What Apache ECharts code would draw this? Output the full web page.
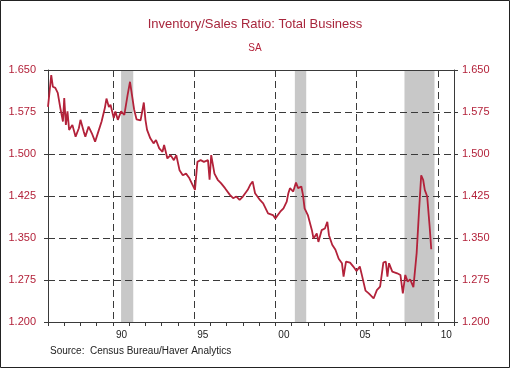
<!DOCTYPE html>
<html><head><meta charset="utf-8">
<script src="https://cdn.jsdelivr.net/npm/echarts@6/dist/echarts.min.js"></script>
<style>html,body{margin:0;padding:0;background:#fff}#c{width:510px;height:368px}</style>
</head><body><div id="c"></div>
<script>
const titleText = 'Inventory/Sales Ratio: Total Business';
const subtitleText = 'SA';
const sourceText = 'Source:  Census Bureau/Haver Analytics';
const xLabels = {1990: '90', 1995: '95', 2000: '00', 2005: '05', 2010: '10'};
const recessions = [[1990.5, 1991.25], [2001.2, 2001.9], [2007.95, 2009.8]];
const dates = [
  1986.0, 1986.2, 1986.3, 1986.45, 1986.6, 1986.76, 1986.92, 1987.0, 1987.1, 1987.2,
  1987.3, 1987.5, 1987.7, 1987.9, 1988.0, 1988.2, 1988.3, 1988.5, 1988.7, 1988.9,
  1989.1, 1989.3, 1989.5, 1989.6, 1989.75, 1989.85, 1990.05, 1990.15, 1990.3, 1990.5,
  1990.7, 1990.9, 1991.05, 1991.15, 1991.3, 1991.45, 1991.7, 1991.9, 1992.0, 1992.1,
  1992.3, 1992.5, 1992.65, 1992.85, 1993.05, 1993.15, 1993.35, 1993.55, 1993.75, 1993.9,
  1994.1, 1994.3, 1994.5, 1994.7, 1994.9, 1995.05, 1995.2, 1995.4, 1995.6, 1995.85,
  1995.95, 1996.05, 1996.25, 1996.45, 1996.65, 1996.9, 1997.2, 1997.4, 1997.6, 1997.8,
  1998.0, 1998.3, 1998.45, 1998.6, 1998.75, 1999.05, 1999.25, 1999.55, 1999.85, 2000.0,
  2000.3, 2000.5, 2000.7, 2000.8, 2000.9, 2001.1, 2001.27, 2001.4, 2001.6, 2001.7,
  2001.8, 2002.0, 2002.25, 2002.35, 2002.55, 2002.65, 2002.85, 2003.05, 2003.2, 2003.3,
  2003.5, 2003.7, 2003.9, 2004.1, 2004.2, 2004.35, 2004.6, 2004.8, 2005.0, 2005.2,
  2005.35, 2005.55, 2005.75, 2006.05, 2006.25, 2006.45, 2006.65, 2006.8, 2006.9, 2007.0,
  2007.2, 2007.5, 2007.7, 2007.85, 2008.0, 2008.15, 2008.3, 2008.5, 2008.7, 2008.85,
  2008.98, 2009.1, 2009.2, 2009.35, 2009.5, 2009.6
];
const ratio = [
  1.584, 1.641, 1.620, 1.618, 1.609, 1.582, 1.558, 1.600, 1.552, 1.576,
  1.543, 1.552, 1.531, 1.546, 1.561, 1.540, 1.531, 1.549, 1.537, 1.522,
  1.540, 1.558, 1.582, 1.599, 1.584, 1.588, 1.564, 1.576, 1.561, 1.576,
  1.570, 1.605, 1.629, 1.626, 1.580, 1.562, 1.560, 1.592, 1.561, 1.543,
  1.528, 1.519, 1.525, 1.510, 1.504, 1.516, 1.492, 1.498, 1.489, 1.498,
  1.471, 1.462, 1.465, 1.457, 1.445, 1.436, 1.486, 1.489, 1.486, 1.489,
  1.454, 1.498, 1.465, 1.454, 1.448, 1.439, 1.427, 1.421, 1.424, 1.418,
  1.424, 1.436, 1.445, 1.451, 1.430, 1.418, 1.412, 1.394, 1.391, 1.385,
  1.397, 1.403, 1.415, 1.430, 1.439, 1.433, 1.449, 1.439, 1.442, 1.427,
  1.403, 1.391, 1.364, 1.349, 1.358, 1.343, 1.364, 1.367, 1.379, 1.355,
  1.338, 1.329, 1.313, 1.305, 1.281, 1.308, 1.306, 1.299, 1.291, 1.299,
  1.281, 1.256, 1.251, 1.242, 1.257, 1.263, 1.306, 1.308, 1.281, 1.305,
  1.290, 1.287, 1.284, 1.251, 1.284, 1.272, 1.276, 1.262, 1.323, 1.400,
  1.462, 1.454, 1.436, 1.424, 1.370, 1.330
];

const RED = '#b3223a';
const AXIS = '#3a3a3a';
const GRID = '#3a3a3a';
const T = 'rgba(0,0,0,0)';
const chart = echarts.init(document.getElementById('c'), null, {renderer: 'canvas'});
const axisLine = {show: true, lineStyle: {color: AXIS, width: 1}};
chart.setOption({
  animation: false,
  textStyle: {fontFamily: 'Liberation Sans, Arial, sans-serif'},
  title: [
    {text: titleText, left: 'center', top: 13,
     textStyle: {color: '#a8263c', fontSize: 13, fontWeight: 'normal', fontFamily: 'Liberation Sans'}},
    {text: subtitleText, left: 'center', top: 38,
     textStyle: {color: RED, fontSize: 10, fontWeight: 'normal', fontFamily: 'Liberation Sans'}}
  ],
  grid: {left: 48, right: 56, top: 70, bottom: 46},
  xAxis: [
    {type: 'value', min: 1986, max: 2011, interval: 1, z: 2,
     axisLine: axisLine,
     axisTick: {show: true, inside: false, length: 4, lineStyle: {color: AXIS}},
     axisLabel: {color: '#222', fontSize: 10, margin: 8, align: 'left', padding: [0, 0, 0, 3],
                 formatter: v => xLabels[Math.round(v)] || ''},
     splitLine: {show: true, lineStyle: {type: [7, 4], width: 1, color: [T, T, T, T, GRID]}}},
    {type: 'value', position: 'top', min: 1986, max: 2011, interval: 1, z: 2,
     axisLine: axisLine, axisTick: {show: false}, axisLabel: {show: false}, splitLine: {show: false}}
  ],
  yAxis: [
    {type: 'value', min: 1.2, max: 1.65, interval: 0.075, z: 2,
     axisLine: axisLine,
     axisTick: {show: true, inside: false, length: 4, lineStyle: {color: AXIS}},
     axisLabel: {color: RED, fontSize: 11, margin: 12, formatter: v => v.toFixed(3)},
     splitLine: {show: true, lineStyle: {type: [7, 4], width: 1, color: GRID}}},
    {type: 'value', position: 'right', min: 1.2, max: 1.65, interval: 0.075, z: 2,
     axisLine: axisLine,
     axisTick: {show: true, inside: false, length: 4, lineStyle: {color: AXIS}},
     axisLabel: {color: RED, fontSize: 11, margin: 8, formatter: v => v.toFixed(3)},
     splitLine: {show: false}}
  ],
  series: [
    {type: 'line', data: [], z: 0, silent: true,
     markArea: {silent: true, z: 0, itemStyle: {color: '#c8c8c8'},
                data: recessions.map(r => [{xAxis: r[0]}, {xAxis: r[1]}])}},
    {type: 'line', z: 4, symbol: 'none', silent: true,
     data: dates.map((d, i) => [d, ratio[i]]),
     lineStyle: {color: RED, width: 1.8}}
  ],
  graphic: [
    {type: 'rect', z: 10, silent: true, shape: {x: 0.5, y: 0.5, width: 509, height: 367},
     style: {fill: 'none', stroke: '#222', lineWidth: 1}},
    {type: 'text', left: 50, top: 346, silent: true,
     style: {text: sourceText, fill: '#222', font: '10px "Liberation Sans"'}}
  ]
});
</script></body></html>
